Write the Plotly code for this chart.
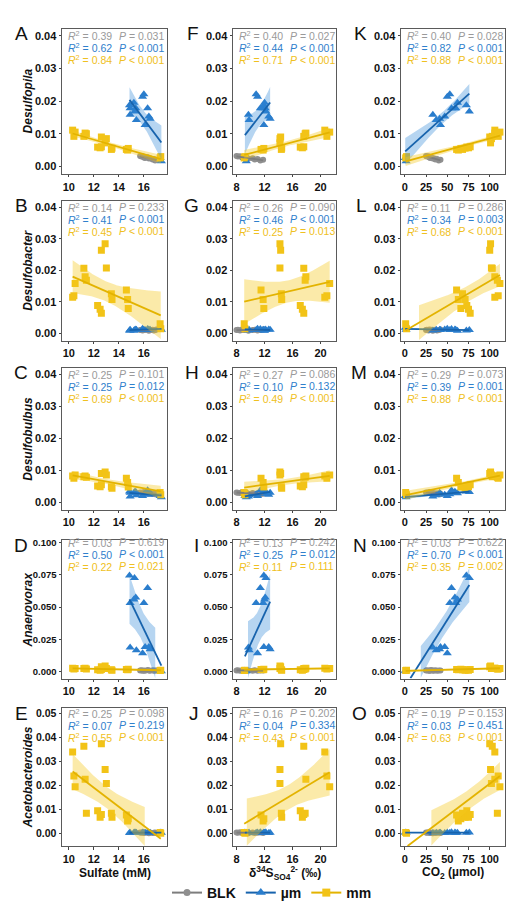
import numpy as np
import plotly.graph_objects as go

# ---------------- data ----------------
genera = ["Desulfopila", "Desulfobacter", "Desulfobulbus", "Anaerovorax", "Acetobacteroides"]
groups = ["BLK", "µm", "mm"]

# BLK samples
blk_sulfate = [15.7, 15.8, 15.9, 16.0, 16.1, 16.3, 16.4, 16.5, 16.7, 16.8, 16.9, 17.0]
blk_d34s = [8.0, 8.2, 8.5, 8.8, 9.0, 9.4, 9.7, 10.3, 10.6, 11.0, 11.4, 11.8]
blk_co2 = [25, 26, 28, 29, 30, 31, 33, 34, 36, 38, 40, 42]
blk_desulfopila = [0.0032, 0.0030, 0.0031, 0.0027, 0.0026, 0.0028, 0.0024, 0.0025, 0.0021, 0.0023, 0.0018, 0.0020]
blk_desulfobacter = [0.0011, 0.0012, 0.0010, 0.0013, 0.0011, 0.0012, 0.0009, 0.0011, 0.0012, 0.0010, 0.0011, 0.0013]
blk_desulfobulbus = [0.0031, 0.0030, 0.0029, 0.0032, 0.0028, 0.0030, 0.0027, 0.0029, 0.0026, 0.0028, 0.0025, 0.0027]
blk_anaerovorax = [0.0010, 0.0012, 0.0008, 0.0011, 0.0009, 0.0013, 0.0010, 0.0008, 0.0012, 0.0009, 0.0011, 0.0010]
blk_acetobacteroides = [0.0003, 0.0002, 0.0004, 0.0001, 0.0003, 0.0002, 0.0000, 0.0003, 0.0001, 0.0002, 0.0003, 0.0001]

# µm samples
um_sulfate = [17.3, 17.4, 14.85, 15.25, 14.9, 15.2, 15.35, 16.0, 16.3, 14.9, 15.4, 15.9, 16.1, 16.4, 16.5]
um_d34s = [9.2, 9.4, 11.9, 12.2, 11.8, 12.0, 12.1, 10.8, 11.4, 9.7, 9.8, 11.0, 11.9, 12.6, 12.8]
um_co2 = [0.5, 1.5, 72.5, 76, 60, 62, 59, 53, 55, 33, 37, 50, 42, 47, 41]
um_desulfopila = [0.0026, 0.0016, 0.0187, 0.0168, 0.0178, 0.0195, 0.0178, 0.0221, 0.0178, 0.0158, 0.0142, 0.0213, 0.0127, 0.0153, 0.0146]
um_desulfobacter = [0.0018, 0.0012, 0.0010, 0.0011, 0.0012, 0.0009, 0.0013, 0.0011, 0.0014, 0.0010, 0.0012, 0.0015, 0.0011, 0.0013, 0.0012]
um_desulfobulbus = [0.0020, 0.0016, 0.0034, 0.0032, 0.0030, 0.0028, 0.0033, 0.0025, 0.0038, 0.0018, 0.0022, 0.0020, 0.0027, 0.0024, 0.0030]
um_anaerovorax = [0.0008, 0.0005, 0.0744, 0.0724, 0.0532, 0.0558, 0.0575, 0.0532, 0.0647, 0.0187, 0.0166, 0.0143, 0.0192, 0.0192, 0.0174]
um_acetobacteroides = [0.0003, 0.0002, 0.0002, 0.0003, 0.0001, 0.0002, 0.0003, 0.0002, 0.0004, 0.0001, 0.0002, 0.0003, 0.0002, 0.0001, 0.0002]

# mm samples
mm_sulfate = [17.3, 17.35, 14.6, 14.7, 14.75, 13.4, 13.45, 12.6, 12.9, 13.0, 12.3, 12.5, 12.6, 11.2, 11.3, 11.4, 10.3, 10.4, 10.5]
mm_d34s = [9.1, 9.2, 11.5, 11.8, 11.9, 14.4, 14.45, 14.3, 14.2, 14.2, 17.1, 17.4, 17.6, 17.6, 17.9, 17.8, 20.6, 20.9, 21.3]
mm_co2 = [1, 2, 61, 63, 66, 68, 71, 100, 101, 102, 73, 75, 77, 103, 106, 109, 106, 110, 112]
mm_desulfopila = [0.0026, 0.0030, 0.0052, 0.0050, 0.0055, 0.0052, 0.0056, 0.0090, 0.0072, 0.0085, 0.0059, 0.0057, 0.0060, 0.0092, 0.0102, 0.0100, 0.0111, 0.0092, 0.0105]
mm_desulfobacter = [0.0031, 0.0015, 0.0138, 0.0108, 0.0079, 0.0126, 0.0108, 0.0264, 0.0285, 0.0208, 0.0089, 0.0077, 0.0064, 0.0207, 0.0180, 0.0169, 0.0115, 0.0120, 0.0159]
mm_desulfobulbus = [0.0031, 0.0024, 0.0075, 0.0062, 0.0048, 0.0049, 0.0044, 0.0090, 0.0095, 0.0085, 0.0051, 0.0049, 0.0055, 0.0080, 0.0082, 0.0078, 0.0082, 0.0075, 0.0085]
mm_anaerovorax = [0.0010, 0.0012, 0.0018, 0.0015, 0.0020, 0.0015, 0.0012, 0.0040, 0.0045, 0.0025, 0.0015, 0.0012, 0.0018, 0.0025, 0.0028, 0.0022, 0.0028, 0.0022, 0.0025]
mm_acetobacteroides = [0.0003, 0.0000, 0.0076, 0.0051, 0.0060, 0.0083, 0.0066, 0.0373, 0.0265, 0.0207, 0.0094, 0.0066, 0.0078, 0.0362, 0.0225, 0.0083, 0.0338, 0.0238, 0.0193]

# statistics labels per panel (rows = genera, cols = sulfate, d34S, CO2), per group BLK / µm / mm
r2_labels = [
    [["0.39", "0.62", "0.84"], ["0.40", "0.44", "0.71"], ["0.40", "0.82", "0.88"]],
    [["0.14", "0.41", "0.45"], ["0.26", "0.46", "0.25"], ["0.11", "0.34", "0.68"]],
    [["0.25", "0.25", "0.69"], ["0.27", "0.10", "0.49"], ["0.29", "0.39", "0.88"]],
    [["0.03", "0.50", "0.22"], ["0.13", "0.25", "0.11"], ["0.03", "0.70", "0.35"]],
    [["0.25", "0.07", "0.55"], ["0.16", "0.04", "0.43"], ["0.19", "0.03", "0.63"]],
]
p_labels = [
    [["= 0.031", "< 0.001", "< 0.001"], ["= 0.027", "< 0.001", "< 0.001"], ["= 0.028", "< 0.001", "< 0.001"]],
    [["= 0.233", "< 0.001", "< 0.001"], ["= 0.090", "< 0.001", "= 0.013"], ["= 0.286", "= 0.003", "< 0.001"]],
    [["= 0.101", "= 0.012", "< 0.001"], ["= 0.086", "= 0.132", "< 0.001"], ["= 0.073", "= 0.001", "< 0.001"]],
    [["= 0.619", "< 0.001", "= 0.021"], ["= 0.242", "= 0.012", "= 0.111"], ["= 0.622", "< 0.001", "= 0.002"]],
    [["= 0.098", "= 0.219", "< 0.001"], ["= 0.202", "= 0.334", "< 0.001"], ["= 0.153", "= 0.451", "< 0.001"]],
]
panel_letters = [["A", "F", "K"], ["B", "G", "L"], ["C", "H", "M"], ["D", "I", "N"], ["E", "J", "O"]]
x_titles = ["Sulfate (mM)", "δ<sup>34</sup>S<sub>SO4</sub><sup>2-</sup> (‰)", "CO<sub>2</sub> (µmol)"]
x_tickvals = [[10, 12, 14, 16], [8, 12, 16, 20], [0, 25, 50, 75, 100]]
y_tickvals = [[0, 0.01, 0.02, 0.03, 0.04]] * 3 + [[0, 0.025, 0.05, 0.075, 0.1], [0, 0.01, 0.02, 0.03, 0.04, 0.05]]
y_tickfmt = [".2f", ".2f", ".2f", ".3f", ".2f"]

# ---------------- assemble ----------------
X = {
    "BLK": [blk_sulfate, blk_d34s, blk_co2],
    "µm": [um_sulfate, um_d34s, um_co2],
    "mm": [mm_sulfate, mm_d34s, mm_co2],
}
Y = {
    "BLK": [blk_desulfopila, blk_desulfobacter, blk_desulfobulbus, blk_anaerovorax, blk_acetobacteroides],
    "µm": [um_desulfopila, um_desulfobacter, um_desulfobulbus, um_anaerovorax, um_acetobacteroides],
    "mm": [mm_desulfopila, mm_desulfobacter, mm_desulfobulbus, mm_anaerovorax, mm_acetobacteroides],
}
style = {
    "BLK": dict(mc="#8f8f8f", lc="#7d7d7d", band="rgba(150,150,150,0.35)", sym="circle", size=6, tc="#9a9a9a"),
    "µm": dict(mc="#2a7dcc", lc="#1763ad", band="rgba(45,135,215,0.35)", sym="triangle-up", size=8, tc="#2f80cc"),
    "mm": dict(mc="#f2c317", lc="#e3b300", band="rgba(245,200,30,0.38)", sym="square", size=7, tc="#efc021"),
}

W, H = 520, 901


def px(p):
    return p / W


def py(p):
    return 1 - p / H


col_px = [(54, 159), (225, 328), (393, 497)]
row_px = [(17, 163), (190, 331), (358, 501), (532, 671), (701, 840)]
x_ranges = [[9.45, 17.85], [7.5, 22.2], [-4.5, 118]]
y_ranges = [[-0.0023, 0.0421]] * 3 + [[-0.0052, 0.1015], [-0.0055, 0.052]]
y_tick_sizes = [11, 11, 11, 9.5, 10.5]
letter_right = [22, 193, 361]


def tq(df):
    z = 1.959964
    g1 = (z ** 3 + z) / 4
    g2 = (5 * z ** 5 + 16 * z ** 3 + 3 * z) / 96
    g3 = (3 * z ** 7 + 19 * z ** 5 + 17 * z ** 3 - 15 * z) / 384
    return z + g1 / df + g2 / df ** 2 + g3 / df ** 3


def smooth(x, y, n=100):
    x = np.asarray(x, float)
    y = np.asarray(y, float)
    b1, b0 = np.polyfit(x, y, 1)
    xs = np.linspace(x.min(), x.max(), n)
    yh = b0 + b1 * xs
    res = y - (b0 + b1 * x)
    s = np.sqrt(np.sum(res ** 2) / (len(x) - 2))
    sxx = np.sum((x - x.mean()) ** 2)
    se = s * np.sqrt(1 / len(x) + (xs - x.mean()) ** 2 / sxx)
    t = tq(len(x) - 2)
    return xs, yh, yh - t * se, yh + t * se


fig = go.Figure()
font_family = "Arial, Liberation Sans, sans-serif"
annotations = []

for r in range(5):
    for c in range(3):
        i = r * 3 + c + 1
        xa = "x" if i == 1 else f"x{i}"
        ya = "y" if i == 1 else f"y{i}"
        lo_lim, hi_lim = y_ranges[r]
        # points
        for g in groups:
            st = style[g]
            fig.add_trace(go.Scatter(
                x=X[g][c], y=Y[g][r], mode="markers", xaxis=xa, yaxis=ya,
                marker=dict(color=st["mc"], symbol=st["sym"], size=st["size"], line=dict(width=0)),
                showlegend=False, hoverinfo="skip"))
        # smooths
        for g in groups:
            st = style[g]
            xs, yh, lo, hi = smooth(X[g][c], Y[g][r])
            mb = (lo >= lo_lim) & (hi <= hi_lim)
            ml = (yh >= lo_lim) & (yh <= hi_lim)
            if mb.sum() > 1:
                fig.add_trace(go.Scatter(
                    x=np.concatenate([xs[mb], xs[mb][::-1]]),
                    y=np.concatenate([hi[mb], lo[mb][::-1]]),
                    mode="lines", fill="toself", fillcolor=st["band"], line=dict(width=0),
                    xaxis=xa, yaxis=ya, showlegend=False, hoverinfo="skip"))
            fig.add_trace(go.Scatter(
                x=xs[ml], y=yh[ml], mode="lines", line=dict(color=st["lc"], width=1.8),
                xaxis=xa, yaxis=ya, showlegend=False, hoverinfo="skip"))

        l, rr = col_px[c]
        t, b = row_px[r]
        fig.layout[f"xaxis{i}"] = dict(
            domain=[px(l), px(rr)], range=x_ranges[c], anchor=ya, tickvals=x_tickvals[c],
            showline=True, mirror=True, linecolor="#5a5a5a", linewidth=1,
            ticks="outside", ticklen=2.5, tickcolor="#444", showgrid=False, zeroline=False,
            tickfont=dict(family=font_family, size=11, color="#111", weight="bold"))
        fig.layout[f"yaxis{i}"] = dict(
            domain=[py(b), py(t)], range=y_ranges[r], anchor=xa, tickvals=y_tickvals[r],
            tickformat=y_tickfmt[r],
            showline=True, mirror=True, linecolor="#5a5a5a", linewidth=1,
            ticks="outside", ticklen=2.5, tickcolor="#444", showgrid=False, zeroline=False,
            tickfont=dict(family=font_family, size=y_tick_sizes[r], color="#111", weight="bold"))

        # stats text
        ytop = y_tickvals[r][-1]
        for k, g in enumerate(groups):
            col = style[g]["tc"]
            annotations.append(dict(
                xref=f"{xa} domain", yref=ya, x=0, y=ytop, xanchor="left", yanchor="middle",
                xshift=4, yshift=-12 * k, showarrow=False,
                text=f"<i>R</i><sup>2</sup> = {r2_labels[r][c][k]}",
                font=dict(family=font_family, size=10.5, color=col)))
            annotations.append(dict(
                xref=f"{xa} domain", yref=ya, x=0, y=ytop, xanchor="left", yanchor="middle",
                xshift=55, yshift=-12 * k, showarrow=False,
                text=f"<i>P</i> {p_labels[r][c][k].replace('<', '&lt;')}",
                font=dict(family=font_family, size=10.5, color=col)))

        # panel letter
        annotations.append(dict(
            xref="paper", yref="paper", x=px(letter_right[c]), y=py(t + 5),
            xanchor="right", yanchor="middle", showarrow=False, text=panel_letters[r][c],
            font=dict(family=font_family, size=19, color="#111")))

    # genus title
    t, b = row_px[r]
    annotations.append(dict(
        xref="paper", yref="paper", x=px(20), y=py((t + b) / 2), xanchor="center", yanchor="middle",
        textangle=-90, showarrow=False, text=f"<b><i>{genera[r]}</i></b>",
        font=dict(family=font_family, size=12, color="#111")))

for c in range(3):
    l, rr = col_px[c]
    annotations.append(dict(
        xref="paper", yref="paper", x=px((l + rr) / 2), y=py(867), xanchor="center", yanchor="middle",
        showarrow=False, text=f"<b>{x_titles[c]}</b>",
        font=dict(family=font_family, size=12, color="#111")))

# legend entries
for g in groups:
    st = style[g]
    fig.add_trace(go.Scatter(
        x=[None], y=[None], mode="lines+markers", name=g,
        line=dict(color=st["lc"], width=2),
        marker=dict(color=st["mc"], symbol=st["sym"], size=st["size"] + 1),
        xaxis="x", yaxis="y", showlegend=True))

fig.update_layout(
    width=W, height=H, margin=dict(l=0, r=0, t=0, b=0),
    paper_bgcolor="white", plot_bgcolor="white",
    annotations=annotations,
    showlegend=True,
    legend=dict(orientation="h", x=px(264), xanchor="center", y=py(887), yanchor="middle",
                font=dict(family=font_family, size=14, color="#111", weight="bold"),
                itemwidth=30, tracegroupgap=0, bgcolor="rgba(0,0,0,0)"),
)

fig.write_html("out.html")
